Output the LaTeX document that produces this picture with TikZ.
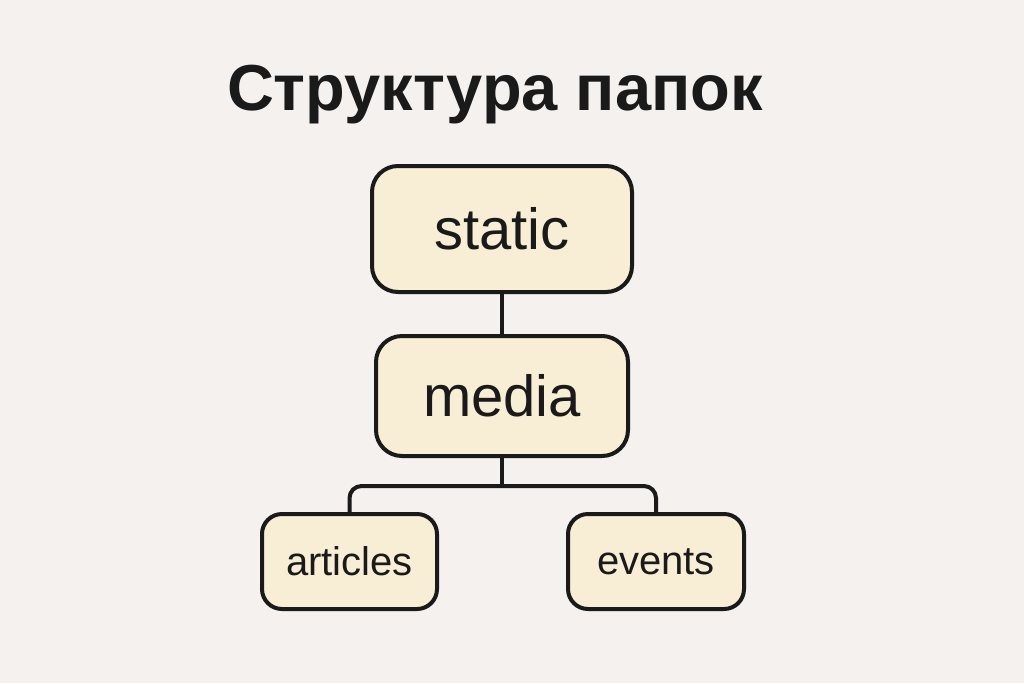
\documentclass[tikz,border=0pt]{standalone}
\usepackage{fontspec}
\setmainfont{Liberation Sans}
\usepackage{xcolor}
\definecolor{bgcol}{HTML}{F4F1EF}
\definecolor{boxfill}{HTML}{F8EDD5}
\definecolor{ink}{HTML}{1A1A1A}
\begin{document}
\begin{tikzpicture}[x=1pt,y=-1pt,
    folder/.style={draw=ink,fill=boxfill,line width=4pt,rounded corners=26pt,
      text=ink,inner sep=0pt,font=\fontsize{58}{60}\selectfont},
    subfolder/.style={folder,rounded corners=20pt,font=\fontsize{40}{42}\selectfont},
    link/.style={draw=ink,line width=4pt}]
      % Background
      \fill[bgcol] (0,0) rectangle (1024,683);
      \useasboundingbox (0,0) rectangle (1024,683);
      % Title
      \node[text=ink,font=\fontsize{65}{67}\bfseries\selectfont,anchor=base] (title) at (495,110) {Структура папок};
      % Folders
      \node[folder,minimum width=260pt,minimum height=126pt] (static) at (502,229) {static};
      \node[folder,minimum width=252pt,minimum height=120pt] (media) at (502,396) {media};
      \node[subfolder,minimum width=175pt,minimum height=95pt] (articles) at (349.5,561.5) {articles};
      \node[subfolder,minimum width=176pt,minimum height=95pt] (events) at (656,561.5) {events};
      % Links
      \coordinate (fork) at (502,486);
      \draw[link] (static.south) -- (media.north);
      \draw[link] (media.south) -- (fork);
      \draw[link,rounded corners=12pt] (articles.north) |- (fork) -| (events.north);
    \end{tikzpicture}
\end{document}
